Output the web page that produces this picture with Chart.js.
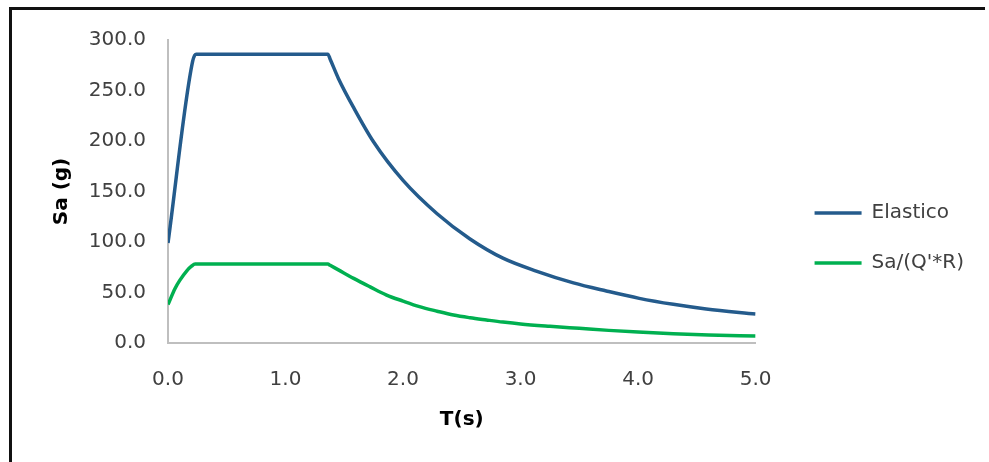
<!DOCTYPE html>
<html>
<head>
<meta charset="utf-8">
<script src="https://cdn.jsdelivr.net/npm/chart.js@4.4.1/dist/chart.umd.min.js"></script>
<style>
html,body{margin:0;padding:0;background:#fff;}
#wrap{position:relative;width:989px;height:462px;}
#frame{position:absolute;left:9px;top:7px;width:973px;height:460px;border-top:3px solid #111;border-left:3px solid #111;pointer-events:none;}
</style>
</head>
<body>
<div id="wrap">
<canvas id="chartSpectrum" width="989" height="462"></canvas>
<div id="frame"></div>
</div>
<script>
const SERIES_NAMES = ["Elastico", "Sa/(Q'*R)"];

// periods (s) and spectral ordinates
const T_ELASTIC = [0, 0.21, 0.24, 0.5, 1.0, 1.36, 1.38, 1.45, 1.58, 1.75, 2.0, 2.29, 2.57, 2.85, 3.14, 3.45, 3.73, 4.01, 4.3, 4.58, 5.0];
const SA_ELASTIC = [99, 279, 286, 286, 286, 286, 281, 262, 233, 199, 161, 128, 103, 84, 71, 59.5, 51.5, 44.2, 38.3, 33.7, 28.7];

const T_REDUCED = [0, 0.06, 0.10, 0.16, 0.20, 0.23, 0.5, 1.0, 1.36, 1.38, 1.45, 1.58, 1.72, 1.86, 2.0, 2.14, 2.29, 2.43, 2.57, 2.71, 2.85, 3.0, 3.25, 3.5, 3.75, 4.0, 4.3, 4.6, 5.0];
const SA_REDUCED = [38, 54, 62, 71.5, 76, 78.2, 78.2, 78.2, 78.2, 76.9, 72.4, 64, 55.6, 47.5, 41.5, 36, 31.5, 27.7, 25, 22.8, 20.7, 18.8, 16.5, 14.5, 12.5, 10.8, 9.2, 8.0, 6.9];

const T_RANGE = [0, 5];
const T_STEP = 1;
const SA_RANGE = [0, 300];
const SA_STEP = 50;

const COLORS = {elastic:"#245b8c", reduced:"#00b050", axis:"#bfbfbf", text:"#404040"};

const TICK_FONT = {family:"'DejaVu Sans', sans-serif", size:20};
const TITLE_FONT = {family:"'DejaVu Sans', sans-serif", size:20, weight:"bold"};

const LEGEND_SHIFT = 29;

function toPoints(xs, ys){
return xs.map((x,i)=>({x:x, y:ys[i]}));
}

// push the legend a bit away from the plot, like the original
const shiftLegend = {
id:"shiftLegend",
afterLayout(chart){
const l = chart.legend;
if(!l) return;
l.left += LEGEND_SHIFT;
l.right += LEGEND_SHIFT;
}
};

new Chart(document.getElementById("chartSpectrum"),{
type:"line",
data:{
datasets:[{
label:SERIES_NAMES[0],
data:toPoints(T_ELASTIC, SA_ELASTIC),
borderColor:COLORS.elastic,
backgroundColor:COLORS.elastic,
borderWidth:3.5,
pointRadius:0,
cubicInterpolationMode:"monotone"
},{
label:SERIES_NAMES[1],
data:toPoints(T_REDUCED, SA_REDUCED),
borderColor:COLORS.reduced,
backgroundColor:COLORS.reduced,
borderWidth:3.5,
pointRadius:0,
cubicInterpolationMode:"monotone"
}]
},
options:{
responsive:false,
animation:false,
devicePixelRatio:1,
layout:{padding:{top:40, bottom:26, left:0, right:44}},
plugins:{
tooltip:{enabled:false},
legend:{
position:"right",
align:"center",
labels:{
boxWidth:47,
boxHeight:3.5,
padding:30,
color:COLORS.text,
font:TICK_FONT,
generateLabels:chart=>Chart.defaults.plugins.legend.labels.generateLabels(chart).map(l=>Object.assign(l,{lineWidth:0}))
}
}
},
scales:{
x:{
type:"linear",
min:T_RANGE[0],
max:T_RANGE[1],
grid:{display:false, drawTicks:false},
border:{display:true, color:COLORS.axis, width:2},
ticks:{stepSize:T_STEP, padding:25, color:COLORS.text, font:TICK_FONT, callback:v=>v.toFixed(1)},
title:{display:true, text:"T(s)", color:"#000", font:TITLE_FONT, padding:{top:4, bottom:4}},
afterFit:s=>{s.height=93;}
},
y:{
min:SA_RANGE[0],
max:SA_RANGE[1],
grid:{display:false, drawTicks:false},
border:{display:true, color:COLORS.axis, width:2},
ticks:{stepSize:SA_STEP, padding:22, color:COLORS.text, font:TICK_FONT, callback:v=>v.toFixed(1)},
title:{display:true, text:"Sa (g)", color:"#000", font:TITLE_FONT, padding:{top:50, bottom:0}},
afterFit:s=>{s.width=168;}
}
}
},
plugins:[shiftLegend]
});
</script>
</body>
</html>
